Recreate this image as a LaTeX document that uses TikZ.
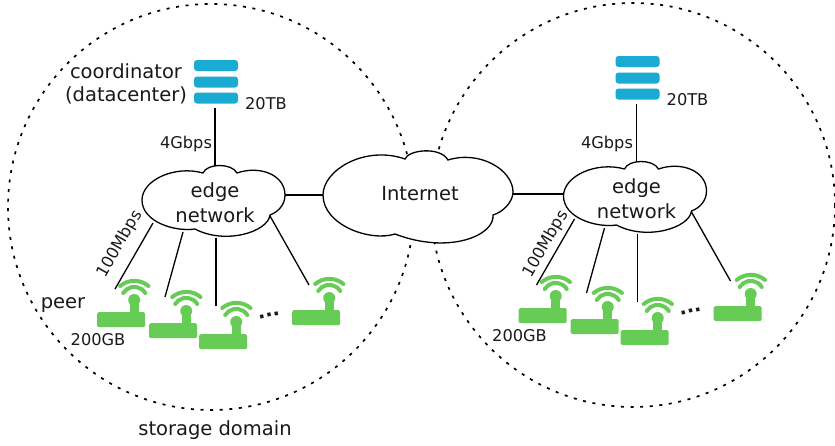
\documentclass[tikz,border=0pt]{standalone}
\usepackage{fontspec}
\setmainfont{DejaVu Sans}
\usetikzlibrary{positioning,calc}
\definecolor{serverblue}{HTML}{1AABD3}
\definecolor{peergreen}{HTML}{66CC55}
\tikzset{
    link/.style={line width=1.3pt, black},
    storagering/.style={line width=1.7pt, dash pattern=on 3pt off 6.6pt},
    cloudline/.style={line width=1.3pt, black, fill=white},
    bigtext/.style={font=\fontsize{19.5}{22}\selectfont, text=black!90, inner sep=0pt},
    smalltext/.style={font=\fontsize{16.2}{18}\selectfont, text=black!90, inner sep=0pt},
    serverbar/.style={fill=serverblue, rounded corners=3pt, minimum width=44pt, minimum height=11pt, inner sep=0pt},
    peerbase/.style={fill=peergreen, rounded corners=1.5pt, minimum width=48pt, minimum height=15pt, inner sep=0pt},
    wave/.style={draw=peergreen, line width=4pt, line cap=round}
}
% one wireless peer, the anchor is the top left corner of its base
\newcommand{\peerbox}[2]{
    \node[peerbase, anchor=north west] (#1) at (#2) {};
    \fill[peergreen] ($(#1.north)+(8.5,1)$) rectangle ($(#1.north)+(17.5,-12)$);
    \fill[peergreen] ($(#1.north)+(13,-12)$) circle (6);
    \draw[wave] ($(#1.north)+(2,-19)$) arc (212:328:13);
    \draw[wave] ($(#1.north)+(-1,-26)$) arc (230:310:22);
}
\begin{document}
\begin{tikzpicture}[x=1pt, y=-1pt]
    \useasboundingbox (0,0) rectangle (835,445);

    % Storage domains
    \draw[storagering] (211,207) circle (203);
    \draw[storagering] (633,205) circle (202);

    % Internet cloud
    \draw[cloudline] (323,195) .. controls (323,170) and (365,145) .. (405,159)
        .. controls (408,150) and (440,146) .. (448,160)
        .. controls (480,150) and (513,170) .. (513,192)
        .. controls (513,202) and (503,212) .. (493,215)
        .. controls (495,235) and (450,255) .. (395,234)
        .. controls (370,242) and (323,225) .. (323,195) -- cycle;
    \node[bigtext] (internet) at (420,194) {Internet};
    \coordinate (internetW) at (323,195);
    \coordinate (internetE) at (513,194);

    \foreach \pre/\dx/\dy in {L/0/0, R/421.5/-4} {
        \begin{scope}[shift={(\dx,\dy)}, name prefix=\pre]
            % Edge network cloud
            \draw[cloudline] (142,200) .. controls (142,180) and (175,165) .. (203,173)
                .. controls (207,163) and (232,163) .. (237,173)
                .. controls (260,165) and (285,175) .. (285,195)
                .. controls (285,205) and (278,212) .. (270,215)
                .. controls (268,232) and (225,245) .. (195,229)
                .. controls (175,232) and (142,222) .. (142,200) -- cycle;
            \node[bigtext, align=center] (edge) at (215,203) {edge\\[3pt]network};

            % Coordinator
            \node[serverbar] (barA) at (216,65.5) {};
            \node[serverbar] (barB) at (216,82) {};
            \node[serverbar] (barC) at (216,98) {};
            \coordinate (up) at (215,108);
            \coordinate (upE) at (215,166);

            % Peers
            \peerbox{peerA}{97,312}
            \peerbox{peerB}{149,323}
            \peerbox{peerC}{199,334}
            \peerbox{peerD}{292,310}
            \node[rotate=12, bigtext] (dots) at (269,315) {\textbf{...}};

            % Links to the peers
            \coordinate (edgeA) at (153,223);
            \coordinate (edgeB) at (183,232);
            \coordinate (edgeC) at (216,238);
            \coordinate (edgeD) at (270,216);
            \coordinate (endA) at (115,289);
            \coordinate (endB) at (165,297);
            \coordinate (endC) at (216,306);
            \coordinate (endD) at (309,285);
            \foreach \p in {A,B,C,D}
                \draw[link] (edge\p) -- (end\p);
            \draw[link] (up) -- (upE);

            \node[smalltext] (down) at (266,103.5) {20TB};
            \node[smalltext] (disk) at (98,339.5) {200GB};
        \end{scope}
    }

    % Links through the Internet
    \coordinate (LedgeE) at (285,195);
    \coordinate (RedgeW) at (564,194);
    \draw[link] (LedgeE) -- (internetW);
    \draw[link] (internetE) -- (RedgeW);

    % Labels
    \node[bigtext] (coordinator) at (126,71) {coordinator};
    \node[bigtext] (datacenter) at (126,95.5) {(datacenter)};
    \node[smalltext] (linkL) at (186,144) {4Gbps};
    \node[smalltext] (linkR) at (607,144) {4Gbps};
    \node[smalltext, rotate=60] (rateL) at (120,244) {100Mbps};
    \node[smalltext, rotate=60] (rateR) at (546,244) {100Mbps};
    \node[bigtext] (peer) at (63,305) {peer};
    \node[bigtext] (storage) at (215,430) {storage domain};
\end{tikzpicture}
\end{document}
